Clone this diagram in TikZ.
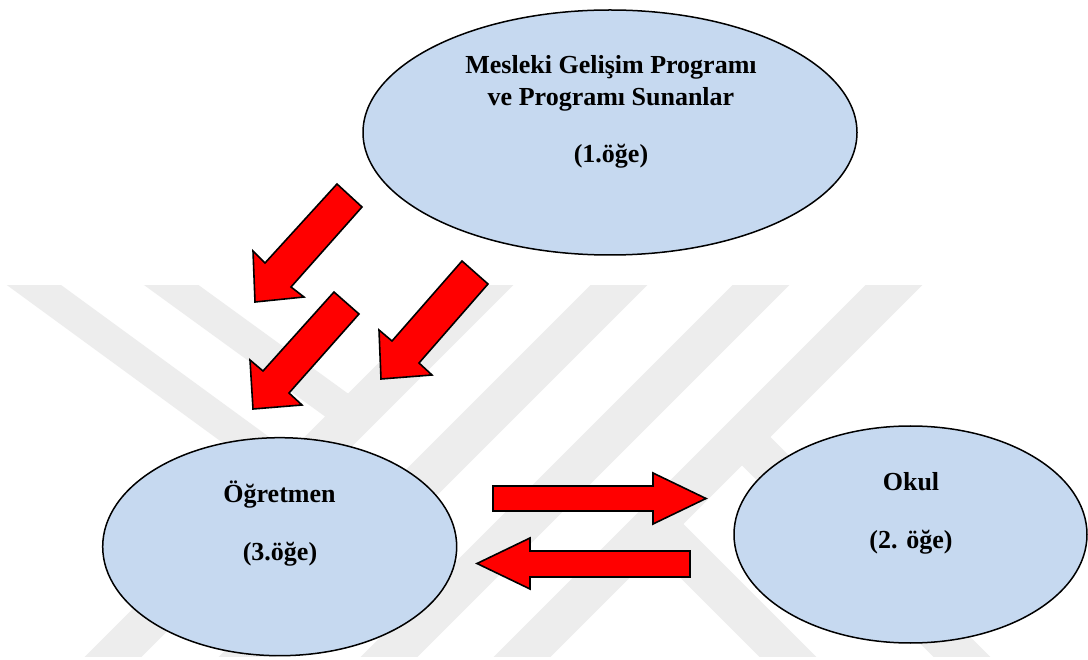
\documentclass[tikz,border=0pt]{standalone}
\usepackage{fontspec}
\setmainfont{Liberation Serif}
\usetikzlibrary{shapes.geometric}
\definecolor{wmgray}{RGB}{237,237,237}
\definecolor{ovalfill}{RGB}{198,217,240}
\definecolor{arrowred}{RGB}{255,0,0}
\begin{document}
\begin{tikzpicture}[x=1pt,y=-1pt,
  oval/.style={ellipse, draw=black, line width=1.5pt, fill=ovalfill, inner sep=0pt},
  blockarrow/.style={draw=black, line width=1.6pt, fill=arrowred, line join=miter},
  band/.style={draw=wmgray, line width=40pt, line cap=butt},
  arm/.style={draw=wmgray, line width=32pt, line cap=butt},
  lbl/.style={font=\bfseries\fontsize{26}{32}\selectfont, anchor=base, inner sep=0pt}]
\useasboundingbox (0,0) rectangle (1088,660);
\fill[white] (0,0) rectangle (1088,660);
% faint background watermark
\begin{scope}
  \clip (0,286) rectangle (1088,656);
  \draw[arm] (-14,250) -- (372,532);
  \draw[arm] (123,250) -- (353,417);
  \draw[band] (520,250) -- (80,690);
  \draw[band] (654,250) -- (214,690);
  \draw[band] (796,250) -- (356,690);
  \draw[band] (929,250) -- (489,690);
  \draw[band] (742,437) -- (1000,695);
  \draw[band] (655,524) -- (825,694);
\end{scope}
% ovals
\node[oval, minimum width=494pt, minimum height=245pt] (prog) at (610,132.5) {};
\node[oval, minimum width=354pt, minimum height=218pt] (ogr) at (279.7,546.7) {};
\node[oval, minimum width=353pt, minimum height=217pt] (okul) at (910.5,534.5) {};
% texts
\node[lbl] (prog-a) at (611,74) {Mesleki Gelişim Programı};
\node[lbl] (prog-b) at (611,106) {ve Programı Sunanlar};
\node[lbl] (prog-c) at (611,163) {(1.öğe)};
\node[lbl] (ogr-a) at (279.5,502) {Öğretmen};
\node[lbl] (ogr-b) at (280,560) {(3.öğe)};
\node[lbl] (okul-a) at (911,490) {Okul};
\node[lbl] (okul-b) at (911,548) {(2. öğe)};
% diagonal block arrows
\draw[blockarrow] (337,184) -- (362,207) -- (291,287) -- (304,297) -- (255,302) -- (253,251) -- (265,263) -- cycle;
\draw[blockarrow] (334,292) -- (359,314) -- (289,393) -- (302,405) -- (253,409) -- (250,360) -- (263,371) -- cycle;
\draw[blockarrow] (462,261) -- (488,284) -- (419,363) -- (432,375) -- (381,379) -- (379,330) -- (392,341) -- cycle;
% horizontal block arrows
\draw[blockarrow] (493,486) -- (653,486) -- (653,473) -- (706,498.5) -- (653,524) -- (653,511) -- (493,511) -- cycle;
\draw[blockarrow] (690,551) -- (530,551) -- (530,538) -- (477,563.5) -- (530,589) -- (530,577) -- (690,577) -- cycle;
\end{tikzpicture}
\end{document}
